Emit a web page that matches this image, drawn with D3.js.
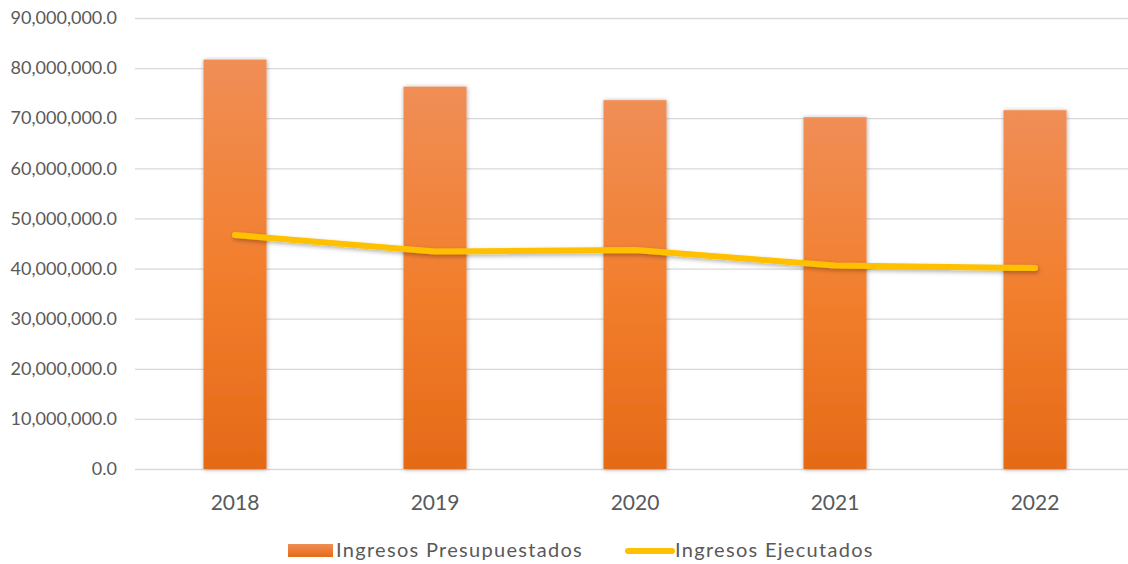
<!DOCTYPE html>
<html>
<head>
<meta charset="utf-8">
<script src="https://cdn.jsdelivr.net/npm/d3@7"></script>
<style>
  html, body { margin: 0; padding: 0; background: #fff; }
  svg { display: block; }
  text { font-family: Lato, "Liberation Sans", sans-serif; fill: #595959; }
</style>
</head>
<body>
<svg id="chart" width="1128" height="564"></svg>
<script>
// Annual income: budgeted (bars) vs executed (line)
const years = ["2018", "2019", "2020", "2021", "2022"];
const presupuestados = [81700000, 76300000, 73600000, 70200000, 71600000];
const ejecutados = [46700000, 43400000, 43700000, 40600000, 40100000];
const yTicks = [0, 10000000, 20000000, 30000000, 40000000, 50000000, 60000000, 70000000, 80000000, 90000000];
const seriesNames = ["Ingresos Presupuestados", "Ingresos Ejecutados"];

const svg = d3.select("#chart");
const margin = { left: 135, right: -7, top: 18, bottom: 95 };
const W = 1128, H = 564;

const x = d3.scaleBand().domain(years).range([margin.left, W - margin.right]).paddingInner(0.685).paddingOuter(0.3425);
const y = d3.scaleLinear().domain([0, 90000000]).range([H - margin.bottom, margin.top]);

const defs = svg.append("defs");
const grad = defs.append("linearGradient").attr("id", "barGrad").attr("x1", 0).attr("y1", 0).attr("x2", 0).attr("y2", 1);
grad.append("stop").attr("offset", "0%").attr("stop-color", "#F08E57");
grad.append("stop").attr("offset", "50%").attr("stop-color", "#F27F2E");
grad.append("stop").attr("offset", "100%").attr("stop-color", "#E56A17");

const legGrad = defs.append("linearGradient").attr("id", "legGrad").attr("x1", 0).attr("y1", 0).attr("x2", 0).attr("y2", 1);
legGrad.append("stop").attr("offset", "0%").attr("stop-color", "#F08E57");
legGrad.append("stop").attr("offset", "100%").attr("stop-color", "#E56A17");

const shadow = defs.append("filter").attr("id", "shadow").attr("x", "-20%").attr("y", "-20%").attr("width", "140%").attr("height", "140%");
shadow.append("feDropShadow").attr("dx", 0.5).attr("dy", 0.5).attr("stdDeviation", 2).attr("flood-color", "#000").attr("flood-opacity", 0.35);

const lineShadow = defs.append("filter").attr("id", "lineShadow").attr("x", "-10%").attr("y", "-50%").attr("width", "120%").attr("height", "200%");
lineShadow.append("feDropShadow").attr("dx", 1).attr("dy", 2).attr("stdDeviation", 2).attr("flood-color", "#000").attr("flood-opacity", 0.3);

// horizontal gridlines + value axis labels
const yAxis = d3.axisLeft(y).tickValues(yTicks)
  .tickSize(-(W - margin.right - margin.left))
  .tickPadding(18)
  .tickFormat(d => d3.format(",.1f")(d));
const gy = svg.append("g").attr("transform", `translate(${margin.left},0)`).call(yAxis);
gy.select(".domain").remove();
gy.selectAll(".tick line").attr("stroke", "#D9D9D9").attr("stroke-width", 1.3);
gy.selectAll(".tick text").attr("font-size", 18).attr("fill", "#595959").attr("dy", "0.32em");

// category axis labels
const xAxis = d3.axisBottom(x).tickSize(0).tickPadding(26);
const gx = svg.append("g").attr("transform", `translate(0,${y(0)})`).call(xAxis);
gx.select(".domain").remove();
gx.selectAll(".tick text").attr("font-size", 21).attr("fill", "#333333");

// budgeted bars
svg.append("g").selectAll("rect").data(years).join("rect")
  .attr("x", d => x(d))
  .attr("width", x.bandwidth())
  .attr("y", (d, i) => y(presupuestados[i]))
  .attr("height", (d, i) => y(0) - y(presupuestados[i]))
  .attr("fill", "url(#barGrad)")
  .attr("filter", "url(#shadow)");

// executed line
const line = d3.line()
  .x((d, i) => x(years[i]) + x.bandwidth() / 2)
  .y(d => y(d));
svg.append("path").datum(ejecutados)
  .attr("d", line)
  .attr("fill", "none")
  .attr("stroke", "#FFC000")
  .attr("stroke-width", 6)
  .attr("stroke-linecap", "round")
  .attr("stroke-linejoin", "round")
  .attr("filter", "url(#lineShadow)");

// legend
const leg = svg.append("g");
leg.append("rect").attr("x", 288).attr("y", 544).attr("width", 45).attr("height", 13).attr("fill", "url(#legGrad)");
leg.append("text").attr("x", 336).attr("y", 557).attr("font-size", 20).attr("letter-spacing", 1.3).attr("fill", "#404040").text(seriesNames[0]);
leg.append("line").attr("x1", 628).attr("x2", 672).attr("y1", 551).attr("y2", 551)
  .attr("stroke", "#FFC000").attr("stroke-width", 6).attr("stroke-linecap", "round");
leg.append("text").attr("x", 675).attr("y", 557).attr("font-size", 20).attr("letter-spacing", 1.3).attr("fill", "#404040").text(seriesNames[1]);
</script>
</body>
</html>
